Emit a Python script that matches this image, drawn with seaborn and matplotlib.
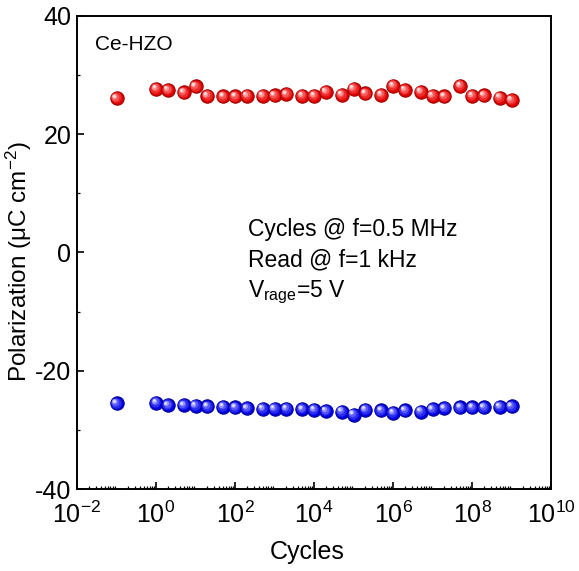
import numpy as np
import pandas as pd
import matplotlib
matplotlib.use("Agg")
import matplotlib.pyplot as plt
import matplotlib.transforms as mtransforms
from matplotlib.ticker import LogLocator, NullFormatter, MultipleLocator
import seaborn as sns

# Switching cycles (1-2-5 steps per decade after the pristine reading)
cycles = [0.1,
          1, 2, 5, 10, 20, 50, 1e2, 2e2, 5e2, 1e3, 2e3, 5e3,
          1e4, 2e4, 5e4, 1e5, 2e5, 5e5, 1e6, 2e6, 5e6,
          1e7, 2e7, 5e7, 1e8, 2e8, 5e8, 1e9]

# Positive and negative remanent polarization (uC/cm^2)
p_pos = [26.1,
         27.7, 27.5, 27.1, 28.1, 26.5, 26.4, 26.4, 26.5, 26.5, 26.6, 26.8, 26.5,
         26.5, 27.2, 26.7, 27.7, 26.9, 26.7, 28.2, 27.5, 27.2,
         26.5, 26.4, 28.2, 26.5, 26.6, 26.2, 25.8]
p_neg = [-25.5,
         -25.4, -25.8, -25.8, -25.9, -26.0, -26.1, -26.2, -26.3, -26.4, -26.4, -26.4, -26.5,
         -26.6, -26.8, -26.9, -27.4, -26.6, -26.7, -27.1, -26.7, -26.9,
         -26.5, -26.3, -26.2, -26.2, -26.2, -26.1, -26.0]

x_ticks = [1e-2, 1, 1e2, 1e4, 1e6, 1e8, 1e10]
y_ticks = [-40, -20, 0, 20, 40]

df = pd.DataFrame({
    "Cycles": cycles * 2,
    "P": p_pos + p_neg,
    "branch": ["+Pr"] * len(cycles) + ["-Pr"] * len(cycles),
})

sns.set_theme(style="ticks")
plt.rcParams["font.family"] = ["Liberation Sans", "DejaVu Sans"]
plt.rcParams["mathtext.fontset"] = "custom"
plt.rcParams["mathtext.rm"] = "Liberation Sans"
plt.rcParams["mathtext.it"] = "Liberation Sans"
plt.rcParams["axes.unicode_minus"] = False
for key in ["text.color", "axes.labelcolor", "xtick.color", "ytick.color",
            "xtick.labelcolor", "ytick.labelcolor", "axes.edgecolor"]:
    plt.rcParams[key] = "black"

fig = plt.figure(figsize=(5.79, 5.71), dpi=100)
ax = fig.add_axes([0.1330, 0.1436, 0.8187, 0.8284])

palette = {"+Pr": "#e00000", "-Pr": "#0000e0"}
edge = {"+Pr": "#a00000", "-Pr": "#00009a"}

# base spheres
for br in ["+Pr", "-Pr"]:
    sub = df[df["branch"] == br]
    sns.scatterplot(data=sub, x="Cycles", y="P", ax=ax, color=palette[br],
                    s=92, edgecolor=edge[br], linewidth=0.8, legend=False,
                    zorder=3)

# shading layers to give each marker a glossy sphere look
shade = {"+Pr": ["#ec2a2a", "#f45a5a", "#fb9a9a", "#ffe4e4"],
         "-Pr": ["#2a2af0", "#5a5af6", "#9a9afb", "#e4e4ff"]}
sizes = [57, 30, 13, 4]
shifts = [(-0.5, 0.5), (-1.0, 1.0), (-1.5, 1.5), (-1.8, 1.8)]
for br in ["+Pr", "-Pr"]:
    sub = df[df["branch"] == br]
    for c, s, (dx, dy) in zip(shade[br], sizes, shifts):
        tr = mtransforms.offset_copy(ax.transData, fig=fig, x=dx, y=dy,
                                     units="points")
        ax.scatter(sub["Cycles"], sub["P"], s=s, color=c, linewidths=0,
                   transform=tr, zorder=4)

ax.set_xscale("log")
ax.set_xlim(1e-2, 1e10)
ax.set_ylim(-40, 40)
ax.set_xticks(x_ticks)
ax.set_yticks(y_ticks)
ax.set_yticklabels([str(v) for v in y_ticks])
ax.xaxis.set_minor_locator(LogLocator(base=10, subs=np.arange(2, 10), numticks=100))
ax.xaxis.set_minor_formatter(NullFormatter())
ax.yaxis.set_minor_locator(MultipleLocator(10))

ax.tick_params(which="major", direction="in", length=5, width=1.2,
               labelsize=18, top=False, right=False)
ax.tick_params(axis="x", which="major", pad=9)
ax.tick_params(axis="y", which="major", pad=4)
ax.tick_params(which="minor", direction="in", length=2.5, width=0.9,
               top=False, right=False)
for sp in ax.spines.values():
    sp.set_linewidth(1.4)
    sp.set_color("black")
    sp.set_visible(True)

ax.set_xlabel("Cycles", fontsize=18)
ax.xaxis.set_label_coords(0.485, -0.108)
ax.set_ylabel(r"Polarization ($\mathrm{\mu}$C cm$^{-2}$)", fontsize=17.5)
ax.yaxis.set_label_coords(-0.09, 0.48)

ax.text(0.038, 0.939, "Ce-HZO", transform=ax.transAxes, fontsize=15,
        va="center", ha="left")
ax.text(0.361, 0.535, "Cycles @ f=0.5 MHz", transform=ax.transAxes,
        fontsize=16.5, va="baseline", ha="left")
ax.text(0.361, 0.471, "Read @ f=1 kHz", transform=ax.transAxes,
        fontsize=16.5, va="baseline", ha="left")
ax.text(0.361, 0.406, r"V$_{\mathrm{rage}}$=5 V", transform=ax.transAxes,
        fontsize=16.5, va="baseline", ha="left")

fig.savefig("out.png", dpi=100)
